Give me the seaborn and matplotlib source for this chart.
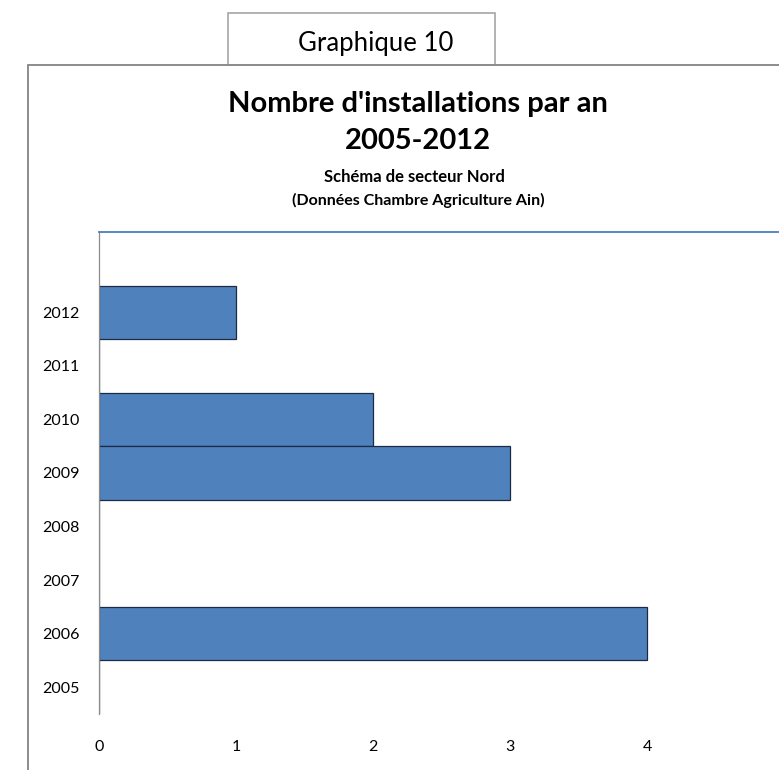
import matplotlib
matplotlib.use("Agg")
import matplotlib.pyplot as plt
import seaborn as sns
import pandas as pd
from matplotlib.patches import Rectangle
from matplotlib.lines import Line2D

years = ["2012", "2011", "2010", "2009", "2008", "2007", "2006", "2005"]
counts = [1, 0, 2, 3, 0, 0, 4, 0]
xticks = [0, 1, 2, 3, 4]

sns.set_style("white")
plt.rcParams["font.family"] = ["Lato", "DejaVu Sans"]
plt.rcParams["text.color"] = "black"

df = pd.DataFrame({"annee": years, "nombre": counts})

W, H = 779, 770
fig = plt.figure(figsize=(W / 100, H / 100), dpi=100)
fig.patch.set_facecolor("white")

left, right, top, bottom = 99, 784, 232, 714
ax = fig.add_axes([left / W, 1 - bottom / H, (right - left) / W, (bottom - top) / H])
sns.barplot(data=df, y="annee", x="nombre", order=years, orient="h",
            color="#4F81BD", saturation=1, width=1.0, edgecolor="#1B2A45",
            linewidth=0.9, ax=ax)
ax.set_ylim(7.5, -1.5)
ax.set_xlim(0, 5)
ax.set_xticks(xticks)
ax.set_xticklabels([str(v) for v in xticks])
ax.set_xlabel("")
ax.set_ylabel("")
ax.tick_params(axis="both", length=0, labelsize=11.5, colors="black")
ax.tick_params(axis="x", pad=19)
ax.tick_params(axis="y", pad=14)
for s in ["right", "bottom"]:
    ax.spines[s].set_visible(False)
ax.spines["left"].set_color("#8C8C8C")
ax.spines["left"].set_linewidth(0.9)
ax.spines["top"].set_color("#4A7EBB")
ax.spines["top"].set_linewidth(1.3)

# outer frame
fig.add_artist(Line2D([28 / W, 28 / W], [0, 1 - 65 / H], color="#8C8C8C", lw=1.4,
                      transform=fig.transFigure))
fig.add_artist(Line2D([28 / W, 1], [1 - 65 / H, 1 - 65 / H], color="#8C8C8C", lw=1.4,
                      transform=fig.transFigure))
# label box
fig.add_artist(Rectangle((228 / W, 1 - 65 / H), (495 - 228) / W, (65 - 13) / H,
                         transform=fig.transFigure, facecolor="white",
                         edgecolor="#A6A6A6", lw=1.2))
fig.text(376 / W, 1 - 43 / H, "Graphique 10", ha="center", va="center",
         fontsize=18.5, color="black")

cx = 418 / W
fig.text(cx, 1 - 104 / H, "Nombre d'installations par an", ha="center", va="center",
         fontsize=21, fontweight="bold", color="black")
fig.text(cx, 1 - 141 / H, "2005-2012", ha="center", va="center",
         fontsize=21, fontweight="bold", color="black")
fig.text(cx - 4 / W, 1 - 177 / H, "Schéma de secteur Nord", ha="center", va="center",
         fontsize=12, fontweight="bold", color="black")
fig.text(cx, 1 - 200 / H, "(Données Chambre Agriculture Ain)", ha="center", va="center",
         fontsize=11.5, fontweight="bold", color="black")

fig.savefig("out.png", dpi=100)
